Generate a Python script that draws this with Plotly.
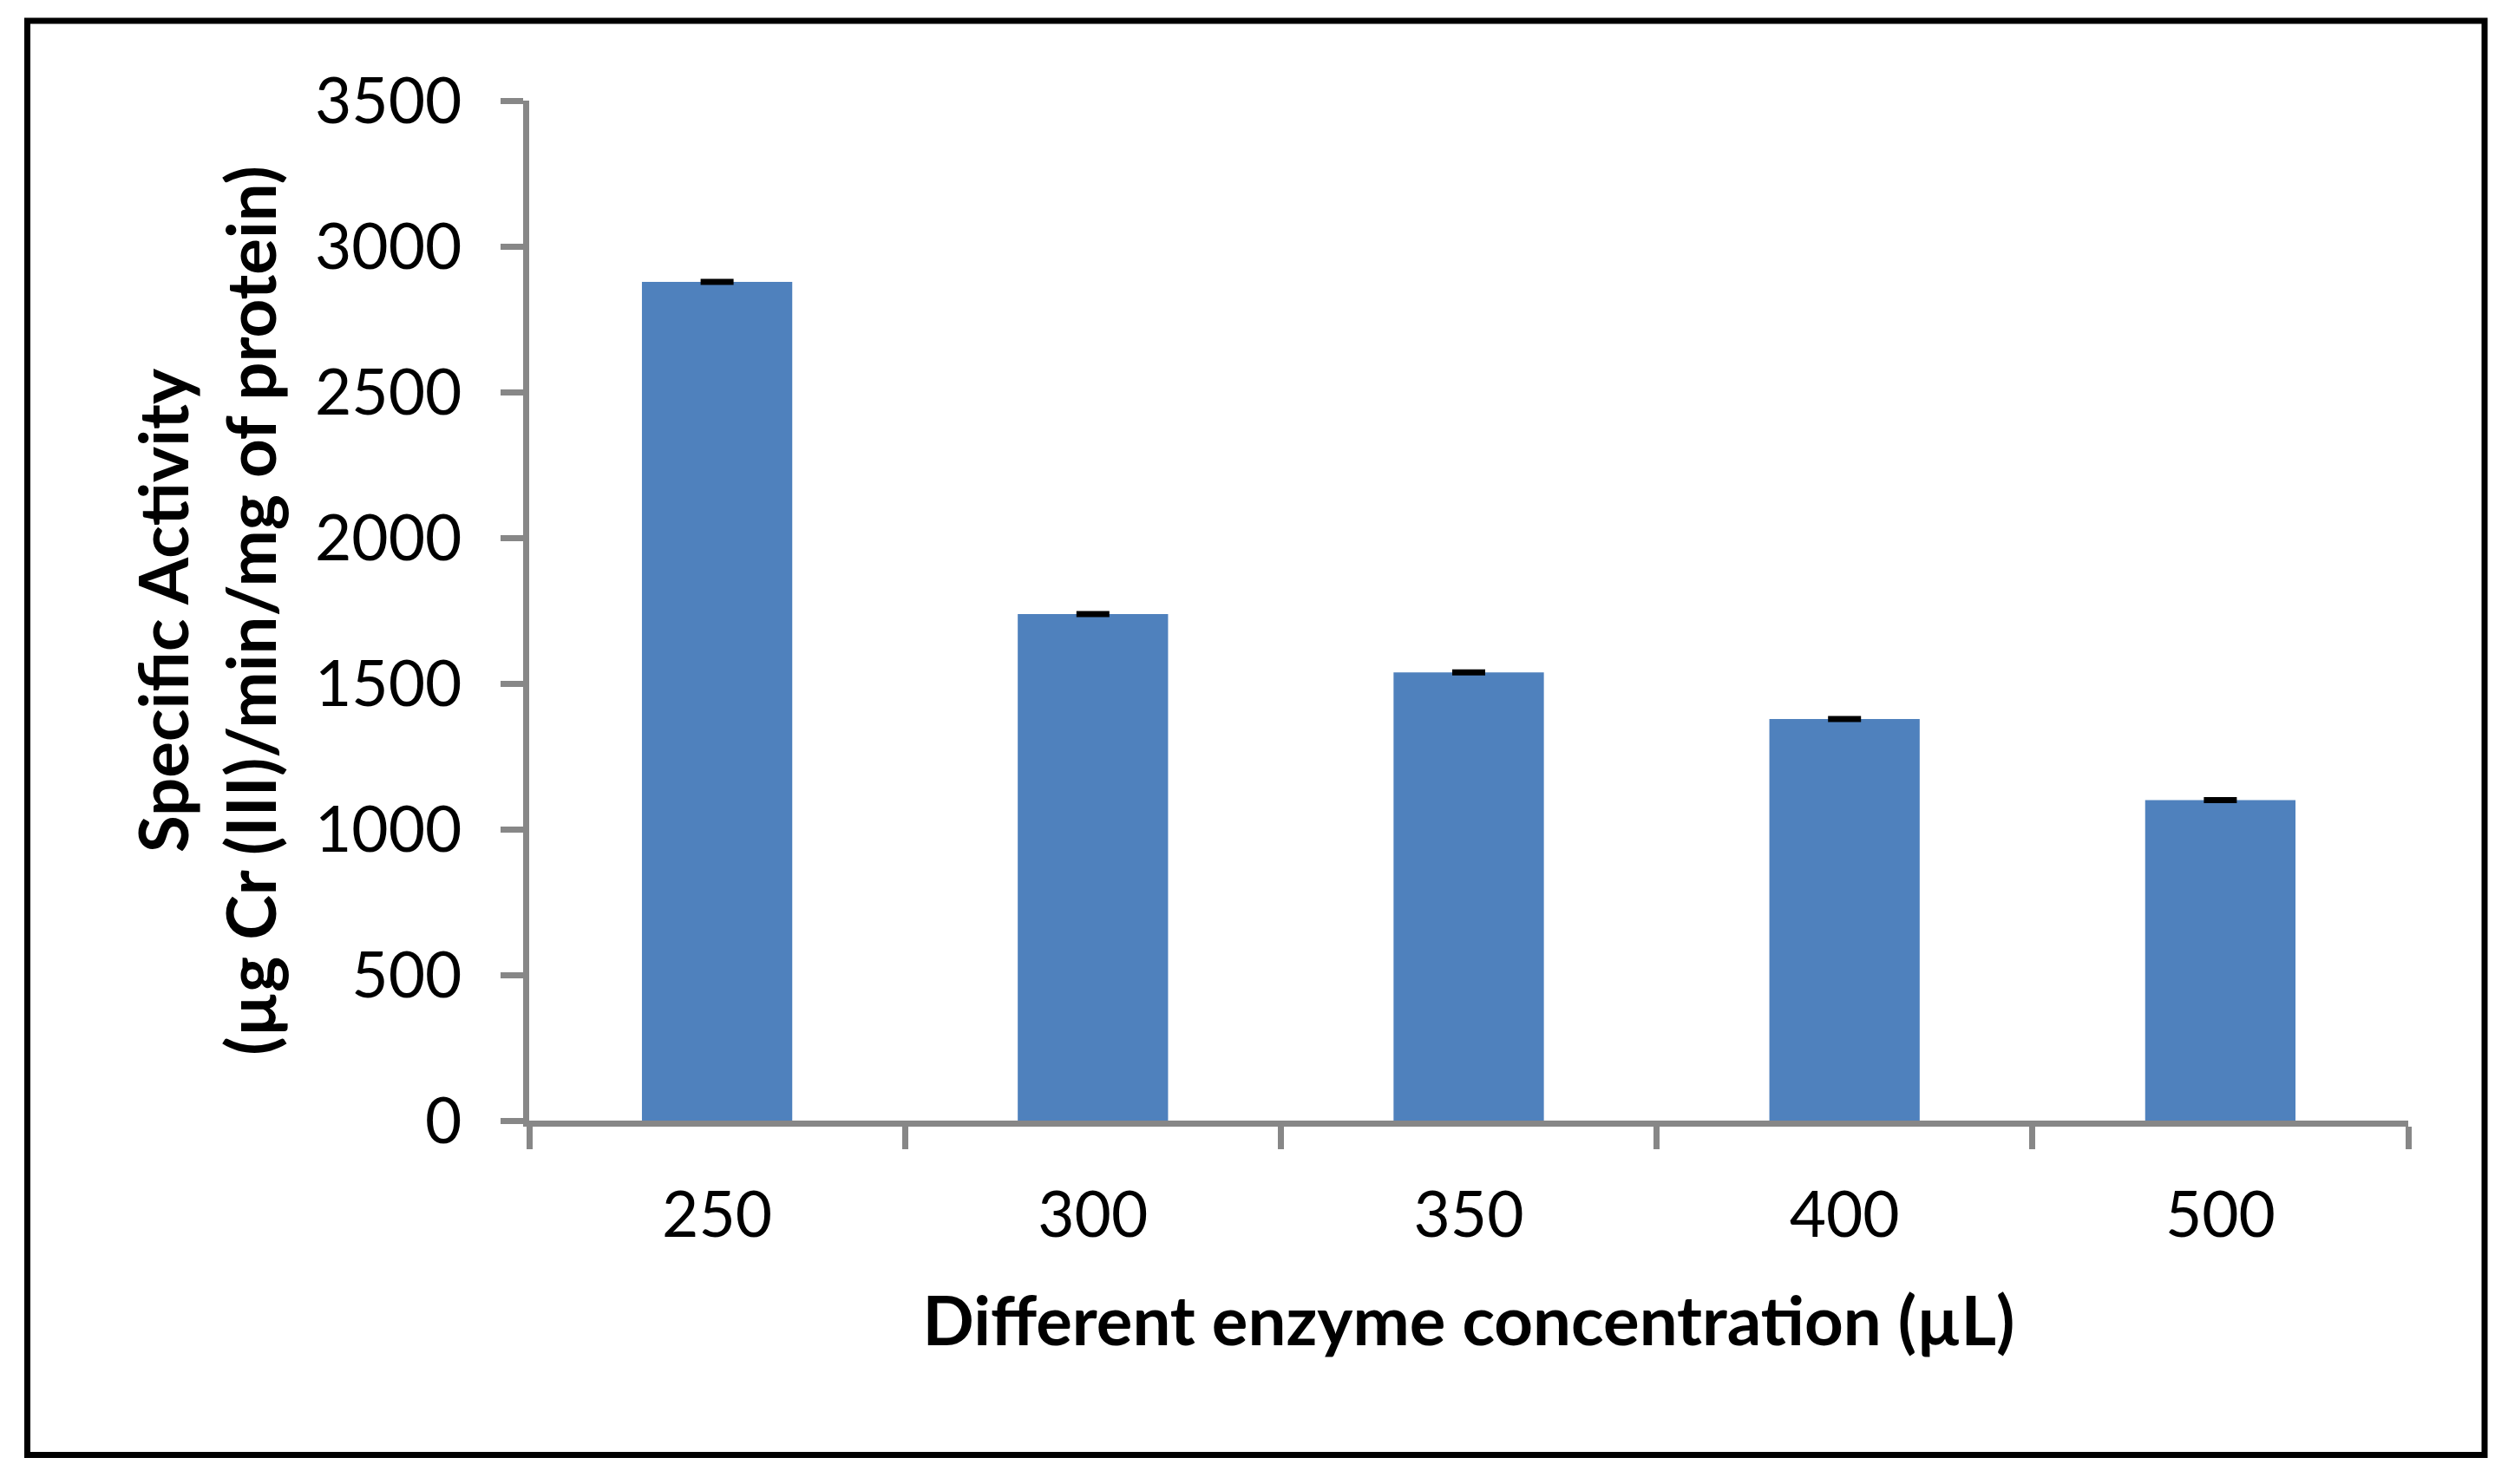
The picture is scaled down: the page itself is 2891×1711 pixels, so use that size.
import plotly.graph_objects as go

# ---- data ----
categories = ["250", "300", "350", "400", "500"]
specific_activity = [2878, 1738, 1538, 1378, 1100]
error_values = [3, 3, 3, 3, 3]
y_tick_values = [0, 500, 1000, 1500, 2000, 2500, 3000, 3500]

x_title = "Different enzyme concentration (µL)"
y_title = "Specific Activity<br>(µg Cr (III)/min/mg of protein)"

# ---- layout constants (pixels) ----
W, H = 2891, 1711
L, R, T, B = 610, 2891 - 2776, 116, 1711 - 1292
PW = W - L - R
PH = H - T - B

FONT = "Lato"
AXIS_COLOR = "#878787"

fig = go.Figure()
fig.add_trace(go.Bar(
    x=categories,
    y=specific_activity,
    marker=dict(color="#4F81BD", line=dict(width=0)),
    error_y=dict(type="data", array=error_values, visible=True,
                 color="black", thickness=5, width=19),
    showlegend=False,
))

def px_to_paper_x(px):
    return (px - L) / PW

def px_to_paper_y(py):
    return (H - B - py) / PH

fig.add_shape(type="rect", xref="paper", yref="paper",
              x0=px_to_paper_x(31.5), x1=px_to_paper_x(2864),
              y0=px_to_paper_y(1677.5), y1=px_to_paper_y(24),
              line=dict(color="black", width=7), fillcolor="rgba(0,0,0,0)",
              layer="above")

fig.update_layout(
    width=W, height=H,
    margin=dict(l=L, r=R, t=T, b=B, autoexpand=False),
    paper_bgcolor="white", plot_bgcolor="white",
    bargap=0.6,
    font=dict(family=FONT, color="black", size=73),
)

fig.update_xaxes(
    type="category",
    showline=True, linecolor=AXIS_COLOR, linewidth=7,
    ticks="outside", tickson="boundaries", ticklen=26, tickwidth=7, tickcolor=AXIS_COLOR,
    tickfont=dict(family=FONT, size=73, color="black"),
    ticklabelstandoff=39,
    showgrid=False, zeroline=False,
    title=dict(text=x_title, font=dict(family=FONT, size=78, color="black", weight="bold"),
               standoff=58),
    automargin=False,
)
fig.update_yaxes(
    range=[0, 3500], tickvals=y_tick_values,
    showline=True, linecolor=AXIS_COLOR, linewidth=7,
    ticks="outside", ticklen=26, tickwidth=7, tickcolor=AXIS_COLOR,
    tickfont=dict(family=FONT, size=73, color="black"),
    ticklabelstandoff=30,
    showgrid=False, zeroline=False,
    title=dict(text=y_title, font=dict(family=FONT, size=78, color="black", weight="bold"),
               standoff=21),
    automargin=False,
)

fig.write_html("out.html", config={"displayModeBar": False},
               post_script="document.body.style.margin='0px';")
